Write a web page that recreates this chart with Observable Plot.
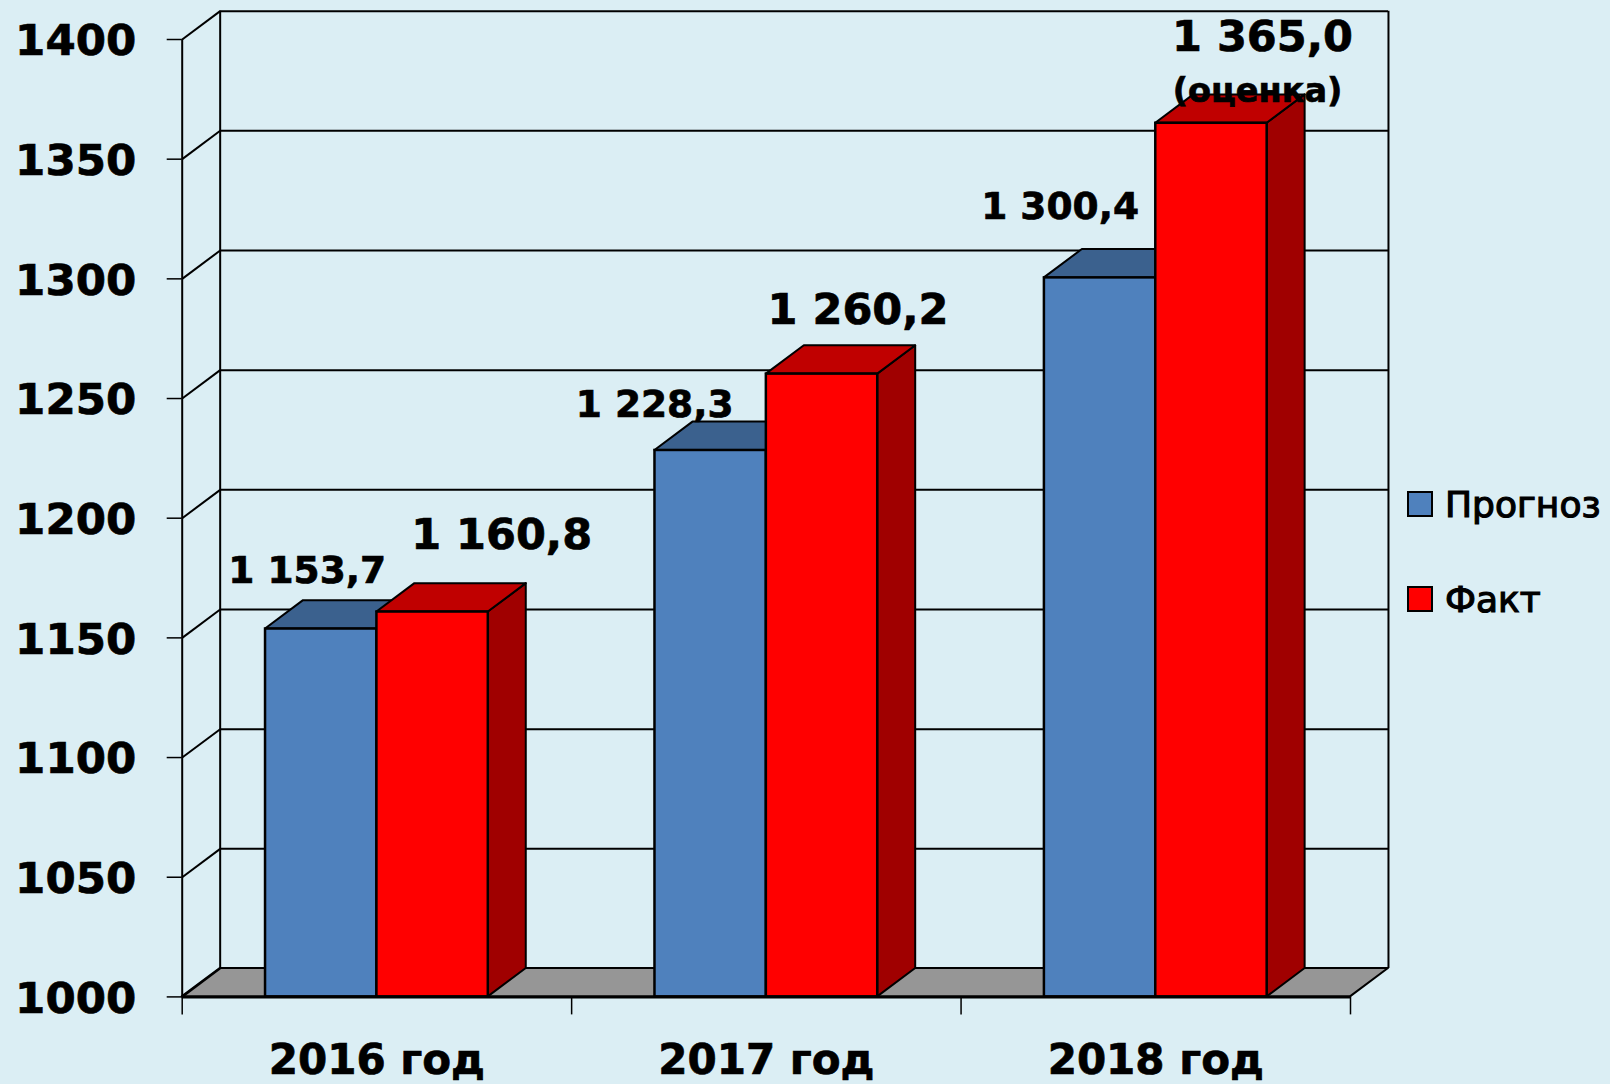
<!DOCTYPE html>
<html>
<head>
<meta charset="utf-8">
<script src="https://cdn.jsdelivr.net/npm/d3@7"></script>
<script src="https://cdn.jsdelivr.net/npm/@observablehq/plot@0.6"></script>
<style>
  html, body { margin: 0; padding: 0; background: #DBEEF4; width: 1610px; height: 1084px; overflow: hidden; }
  #chart { position: relative; width: 1610px; height: 1084px; font-family: "DejaVu Sans", sans-serif; }
  #chart svg { display: block; background: #DBEEF4; overflow: visible; }
  #chart svg text { stroke: #000; stroke-width: 0.7px; }
  .lg { position: absolute; left: 1407px; display: flex; align-items: center; height: 26px; font-size: 36px; font-weight: 400; color: #000; white-space: nowrap; -webkit-text-stroke: 1.2px #000; }
  .lg i { display: block; box-sizing: border-box; width: 26px; height: 26px; border: 2.5px solid #000; margin-right: 12px; }
</style>
</head>
<body>
<div id="chart"></div>
<script>
const years = ["2016 год", "2017 год", "2018 год"];
const seriesNames = ["Прогноз", "Факт"];
const forecast = [1153.7, 1228.3, 1300.4];
const actual = [1160.8, 1260.2, 1365.0];
const yTicks = [1000, 1050, 1100, 1150, 1200, 1250, 1300, 1350, 1400];
const valueLabels = ["1 153,7", "1 228,3", "1 300,4", "1 160,8", "1 260,2", "1 365,0"];
const note = "(оценка)";

const W = 0.286;        // bar width, in category units
const DX = 0.0975;      // chart depth along x
const DY = 11.85;       // chart depth along y
const base = 1000;

function bars(values, offset) {
  return values.map((v, i) => ({ id: i, v, x1: i + 0.5 + offset, x2: i + 0.5 + offset + W }));
}
const sideRows = (rows) => rows.flatMap((b) => [
  { id: b.id, x: b.x2, y1: base, y2: b.v },
  { id: b.id, x: b.x2 + DX, y1: base + DY, y2: b.v + DY }
]);
const topRows = (rows) => rows.flatMap((b) => [
  { id: b.id, y: b.v, x1: b.x1, x2: b.x2 },
  { id: b.id, y: b.v + DY, x1: b.x1 + DX, x2: b.x2 + DX }
]);
function bar3d(rows, front, top, side) {
  return [
    Plot.areaY(sideRows(rows), { x: "x", y1: "y1", y2: "y2", z: "id", fill: side, stroke: "#000", strokeWidth: 2 }),
    Plot.areaX(topRows(rows), { y: "y", x1: "x1", x2: "x2", z: "id", fill: top, stroke: "#000", strokeWidth: 2 }),
    Plot.rect(rows, { x1: "x1", x2: "x2", y1: base, y2: "v", fill: front, stroke: "#000", strokeWidth: 2.5 })
  ];
}
const blue = bars(forecast, -W);
const red = bars(actual, 0);

// per-label pixel nudges from the top of its bar
const labelMarks = [
  { r: blue[0], i: 0, dx: -14, dy: -58.5, size: 37.5 },
  { r: blue[1], i: 1, dx: -56, dy: -45.5, size: 37.5 },
  { r: blue[2], i: 2, dx: -40, dy: -71, size: 37.5 },
  { r: red[0], i: 3, dx: 69, dy: -77, size: 43 },
  { r: red[1], i: 4, dx: 36, dy: -64, size: 43 },
  { r: red[2], i: 5, dx: 51, dy: -86, size: 43 }
].map(({ r, i, dx, dy, size }) =>
  Plot.text([valueLabels[i]], {
    x: (r.x1 + r.x2) / 2, y: r.v, text: (d) => d, dx, dy,
    fontSize: size, fontWeight: "bold", fill: "#000", lineAnchor: "middle", textAnchor: "middle"
  })
);

const plot = Plot.plot({
  width: 1610,
  height: 1084,
  marginLeft: 181.7,
  marginRight: 260,
  marginTop: 39,
  marginBottom: 87.6,
  style: { fontFamily: '"DejaVu Sans", sans-serif', background: "#DBEEF4", overflow: "visible" },
  x: { domain: [0, 3] },
  y: { domain: [1000, 1400] },
  marks: [
    // floor
    Plot.areaX([{ y: base, x1: 0, x2: 3 }, { y: base + DY, x1: DX, x2: 3 + DX }],
      { y: "y", x1: "x1", x2: "x2", fill: "#969696", stroke: "#000", strokeWidth: 2 }),
    // back wall grid
    Plot.ruleY(yTicks.slice(1).map((t) => t + DY), { x1: DX, x2: 3 + DX, stroke: "#000", strokeWidth: 2 }),
    Plot.ruleX([DX, 3 + DX], { y1: base + DY, y2: 1400 + DY, stroke: "#000", strokeWidth: 2 }),
    // side wall
    Plot.ruleX([0], { y1: base, y2: 1400, stroke: "#000", strokeWidth: 2 }),
    Plot.link(yTicks, { x1: 0, x2: DX, y1: (t) => t, y2: (t) => t + DY, stroke: "#000", strokeWidth: 2 }),
    // axes
    Plot.axisY({
      anchor: "left", ticks: yTicks, tickSize: 15, label: null, tickFormat: () => "",
      stroke: "#000", strokeWidth: 1.5
    }),
    Plot.axisY({
      anchor: "left", ticks: yTicks, tickSize: 0, tickPadding: 46, label: null, dy: 2,
      fontSize: 43.5, fontWeight: "bold", fill: "#000",
      tickFormat: (d) => String(d)
    }),
    Plot.axisX({ anchor: "bottom", ticks: [0, 1, 2, 3], tickSize: 18, tickFormat: () => "", label: null, stroke: "#000", strokeWidth: 1.5 }),
    Plot.axisX({
      anchor: "bottom", ticks: [0.5, 1.5, 2.5], tickSize: 0, tickPadding: 64, label: null,
      fontSize: 42, fontWeight: "bold", fill: "#000", lineAnchor: "middle",
      tickFormat: (d) => years[Math.floor(d)]
    }),
    // bars
    ...bar3d(blue, "#4F81BD", "#3B618E", "#2F4D71"),
    ...bar3d(red, "#FF0000", "#C00000", "#A00000"),
    Plot.ruleY([base], { x1: 0, x2: 3, stroke: "#000", strokeWidth: 3 }),
    // labels
    ...labelMarks,
    Plot.text([note], {
      x: (red[2].x1 + red[2].x2) / 2, y: red[2].v, text: (d) => d, dx: 46, dy: -32,
      fontSize: 33.5, fontWeight: "bold", fill: "#000", lineAnchor: "middle", textAnchor: "middle"
    })
  ]
});

const host = document.getElementById("chart");
host.appendChild(plot);
[[seriesNames[0], "#4F81BD", 491], [seriesNames[1], "#FF0000", 586]].forEach(([name, color, top]) => {
  const row = document.createElement("div");
  row.className = "lg";
  row.style.top = top + "px";
  const sw = document.createElement("i");
  sw.style.background = color;
  row.appendChild(sw);
  row.appendChild(document.createTextNode(name));
  host.appendChild(row);
});
</script>
</body>
</html>
